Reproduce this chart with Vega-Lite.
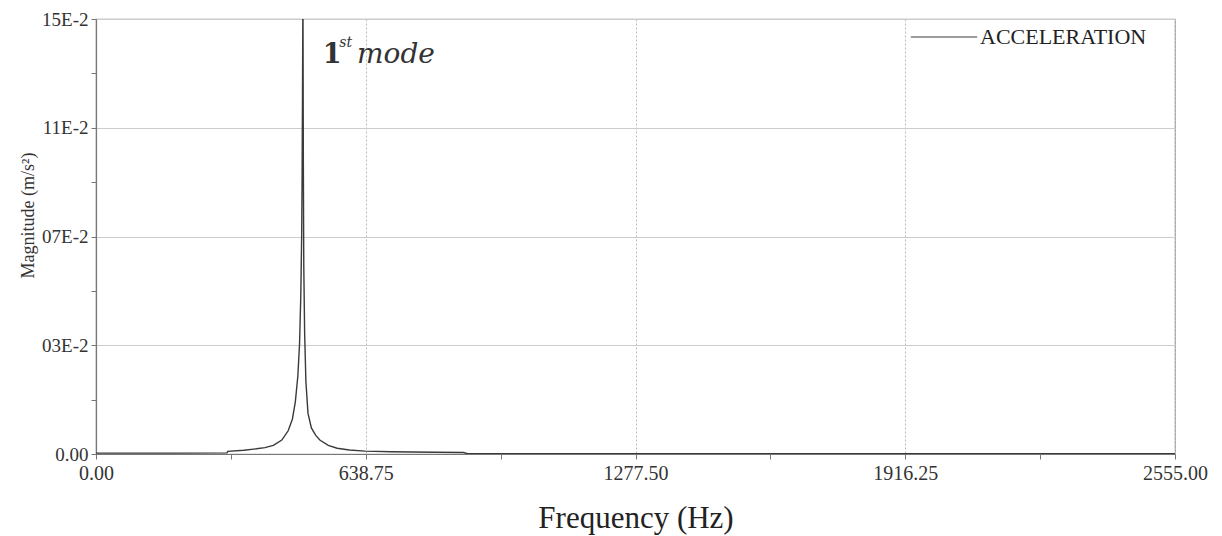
{
  "$schema": "https://vega.github.io/schema/vega-lite/v6.json",
  "width": 1079,
  "height": 435,
  "autosize": "none",
  "padding": {"left": 96, "top": 19, "right": 47, "bottom": 82},
  "background": "white",
  "config": {
    "view": {"stroke": "#999", "strokeWidth": 1.2},
    "font": "Liberation Serif"
  },
  "datasets": {
    "spec": [
      {"f": 0, "v": 0.0003, "s": "ACCELERATION"},
      {"f": 100, "v": 0.0003, "s": "ACCELERATION"},
      {"f": 200, "v": 0.0003, "s": "ACCELERATION"},
      {"f": 310, "v": 0.0004, "s": "ACCELERATION"},
      {"f": 312, "v": 0.0009, "s": "ACCELERATION"},
      {"f": 350, "v": 0.0013, "s": "ACCELERATION"},
      {"f": 380, "v": 0.0018, "s": "ACCELERATION"},
      {"f": 400, "v": 0.0022, "s": "ACCELERATION"},
      {"f": 420, "v": 0.003, "s": "ACCELERATION"},
      {"f": 440, "v": 0.0048, "s": "ACCELERATION"},
      {"f": 455, "v": 0.008, "s": "ACCELERATION"},
      {"f": 465, "v": 0.012, "s": "ACCELERATION"},
      {"f": 472, "v": 0.018, "s": "ACCELERATION"},
      {"f": 478, "v": 0.027, "s": "ACCELERATION"},
      {"f": 482, "v": 0.038, "s": "ACCELERATION"},
      {"f": 485, "v": 0.055, "s": "ACCELERATION"},
      {"f": 487, "v": 0.075, "s": "ACCELERATION"},
      {"f": 488, "v": 0.095, "s": "ACCELERATION"},
      {"f": 489, "v": 0.124, "s": "ACCELERATION"},
      {"f": 490, "v": 0.16, "s": "ACCELERATION"},
      {"f": 491, "v": 0.1, "s": "ACCELERATION"},
      {"f": 492, "v": 0.065, "s": "ACCELERATION"},
      {"f": 494, "v": 0.042, "s": "ACCELERATION"},
      {"f": 497, "v": 0.025, "s": "ACCELERATION"},
      {"f": 502, "v": 0.014, "s": "ACCELERATION"},
      {"f": 510, "v": 0.009, "s": "ACCELERATION"},
      {"f": 520, "v": 0.0065, "s": "ACCELERATION"},
      {"f": 530, "v": 0.0048, "s": "ACCELERATION"},
      {"f": 550, "v": 0.003, "s": "ACCELERATION"},
      {"f": 571, "v": 0.002, "s": "ACCELERATION"},
      {"f": 600, "v": 0.0014, "s": "ACCELERATION"},
      {"f": 637, "v": 0.001, "s": "ACCELERATION"},
      {"f": 700, "v": 0.0008, "s": "ACCELERATION"},
      {"f": 800, "v": 0.0006, "s": "ACCELERATION"},
      {"f": 870, "v": 0.0005, "s": "ACCELERATION"},
      {"f": 880, "v": 0.0001, "s": "ACCELERATION"},
      {"f": 1500, "v": 0.0001, "s": "ACCELERATION"},
      {"f": 2000, "v": 0.0001, "s": "ACCELERATION"},
      {"f": 2555, "v": 0.0001, "s": "ACCELERATION"}
    ],
    "ann1": [{"f": 537, "v": 0.1349, "t": "1"}],
    "ann2": [{"f": 576, "v": 0.1404, "t": "st"}],
    "ann3": [{"f": 618, "v": 0.1349, "t": "mode"}]
  },
  "layer": [
    {
      "data": {"name": "spec"},
      "mark": {"type": "line", "clip": true, "strokeWidth": 1.4, "interpolate": "linear"},
      "encoding": {
        "x": {
          "field": "f",
          "type": "quantitative",
          "scale": {"domain": [0, 2555], "nice": false, "zero": false},
          "axis": {
            "values": [0, 319.375, 638.75, 958.125, 1277.5, 1596.875, 1916.25, 2235.625, 2555],
            "labelExpr": "datum.value % 638.75 == 0 ? format(datum.value, '.2f') : ''",
            "title": "Frequency (Hz)",
            "titleFont": "Liberation Serif",
            "titleFontSize": 31,
            "titleFontWeight": "normal",
            "titleColor": "#222",
            "titleBaseline": "middle",
            "titleY": 64,
            "labelFont": "Liberation Serif",
            "labelFontSize": 20,
            "labelColor": "#333",
            "labelPadding": 4,
            "labelFlush": false,
            "labelOverlap": false,
            "tickSize": 5,
            "tickColor": "#777",
            "domainColor": "#777",
            "domainWidth": 1.2,
            "grid": true,
            "gridColor": "#bbb",
            "gridDash": [2, 2],
            "gridOpacity": {"condition": {"test": "datum.value % 638.75 == 0", "value": 1}, "value": 0}
          }
        },
        "y": {
          "field": "v",
          "type": "quantitative",
          "scale": {"domain": [0, 0.15], "nice": false, "zero": true},
          "axis": {
            "values": [0, 0.01875, 0.0375, 0.05625, 0.075, 0.09375, 0.1125, 0.13125, 0.15],
            "labelExpr": "round(datum.value*10000)==0 ? '0.00' : round(datum.value*10000)==375 ? '03E-2' : round(datum.value*10000)==750 ? '07E-2' : round(datum.value*10000)==1125 ? '11E-2' : round(datum.value*10000)==1500 ? '15E-2' : ''",
            "title": "Magnitude (m/s²)",
            "titleFont": "Liberation Serif",
            "titleFontSize": 18,
            "titleFontWeight": "normal",
            "titleColor": "#333",
            "titleAngle": -90,
            "titleX": -68,
            "titleY": 196,
            "titleAlign": "center",
            "titleBaseline": "middle",
            "labelFont": "Liberation Serif",
            "labelFontSize": 19,
            "labelColor": "#333",
            "labelPadding": 3,
            "labelFlush": false,
            "labelOverlap": false,
            "tickSize": 5,
            "tickColor": "#777",
            "domainColor": "#777",
            "domainWidth": 1.2,
            "grid": true,
            "gridColor": "#ccc",
            "gridOpacity": {"condition": {"test": "round(datum.value*10000) % 375 == 0", "value": 1}, "value": 0}
          }
        },
        "color": {
          "field": "s",
          "type": "nominal",
          "scale": {"domain": ["ACCELERATION"], "range": ["#3a3a3a"]},
          "legend": {
            "title": null,
            "orient": "none",
            "legendX": 814,
            "legendY": -16,
            "symbolType": "stroke",
            "symbolSize": 4400,
            "symbolStrokeWidth": 1.2,
            "labelFont": "Liberation Serif",
            "labelFontSize": 22,
            "labelColor": "#222",
            "labelOffset": 2,
            "labelLimit": 300
          }
        }
      }
    },
    {
      "data": {"name": "ann1"},
      "mark": {"type": "text", "align": "left", "baseline": "alphabetic", "font": "DejaVu Serif", "fontSize": 27, "fontWeight": "bold", "color": "#333"},
      "encoding": {
        "x": {"field": "f", "type": "quantitative"},
        "y": {"field": "v", "type": "quantitative"},
        "text": {"field": "t"}
      }
    },
    {
      "data": {"name": "ann2"},
      "mark": {"type": "text", "align": "left", "baseline": "alphabetic", "font": "DejaVu Serif", "fontSize": 14, "fontStyle": "italic", "color": "#333"},
      "encoding": {
        "x": {"field": "f", "type": "quantitative"},
        "y": {"field": "v", "type": "quantitative"},
        "text": {"field": "t"}
      }
    },
    {
      "data": {"name": "ann3"},
      "mark": {"type": "text", "align": "left", "baseline": "alphabetic", "font": "DejaVu Serif", "fontSize": 28, "fontStyle": "italic", "color": "#333"},
      "encoding": {
        "x": {"field": "f", "type": "quantitative"},
        "y": {"field": "v", "type": "quantitative"},
        "text": {"field": "t"}
      }
    }
  ]
}
